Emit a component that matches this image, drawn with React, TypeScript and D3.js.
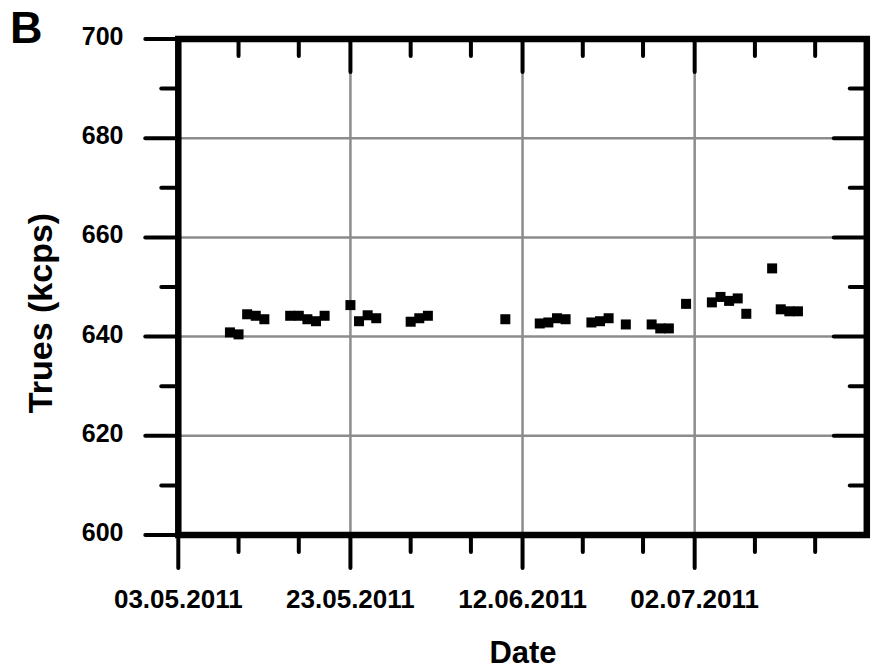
import React from "react";
import * as d3 from "d3";

const dates = [
  "09.05.2011", "10.05.2011", "11.05.2011", "12.05.2011", "13.05.2011",
  "16.05.2011", "17.05.2011", "18.05.2011", "19.05.2011", "20.05.2011",
  "23.05.2011", "24.05.2011", "25.05.2011", "26.05.2011",
  "30.05.2011", "31.05.2011", "01.06.2011",
  "10.06.2011",
  "14.06.2011", "15.06.2011", "16.06.2011", "17.06.2011",
  "20.06.2011", "21.06.2011", "22.06.2011", "24.06.2011",
  "27.06.2011", "28.06.2011", "29.06.2011", "01.07.2011",
  "04.07.2011", "05.07.2011", "06.07.2011", "07.07.2011", "08.07.2011",
  "11.07.2011", "12.07.2011", "13.07.2011", "14.07.2011",
];
const trues = [
  640.85, 640.45, 644.5, 644.2, 643.5,
  644.2, 644.2, 643.5, 643.1, 644.2,
  646.35, 643.1, 644.3, 643.7,
  643.0, 643.7, 644.2,
  643.5,
  642.65, 642.85, 643.7, 643.5,
  642.85, 643.1, 643.7, 642.45,
  642.45, 641.65, 641.65, 646.6,
  646.9, 648.0, 647.2, 647.7, 644.6,
  653.75, 645.5, 645.1, 645.1,
];
const majorDates = ["03.05.2011", "23.05.2011", "12.06.2011", "02.07.2011"];
const minorDates = [
  "10.05.2011", "17.05.2011", "30.05.2011", "06.06.2011",
  "19.06.2011", "26.06.2011", "09.07.2011", "16.07.2011",
];
const xDomain = ["03.05.2011", "22.07.2011"];
const yMajor = [600, 620, 640, 660, 680, 700];
const yMinor = [610, 630, 650, 670, 690];

const parse = (s: string) => {
  const [d, m, y] = s.split(".").map(Number);
  return new Date(Date.UTC(y, m - 1, d));
};

export default function App() {
  const W = 873, H = 670;
  const left = 178.3, right = 866.8, top = 39, bottom = 535;
  const x = d3.scaleUtc().domain(xDomain.map(parse)).range([left, right]);
  const y = d3.scaleLinear().domain([600, 700]).range([bottom, top]);
  const font = "'Liberation Sans', Arial, sans-serif";
  const majLen = 33, minLen = 17;
  const tickW = 4;
  return (
    <svg width={W} height={H} style={{ position: "absolute", left: 0, top: 0, background: "#fff" }}>
      <rect x={0} y={0} width={W} height={H} fill="#fff" />
      {/* grid */}
      {majorDates.slice(1).map((d) => (
        <line key={"gx" + d} x1={x(parse(d))} x2={x(parse(d))} y1={top} y2={bottom} stroke="#8c8c8c" strokeWidth={2.5} />
      ))}
      {yMajor.slice(1, -1).map((v) => (
        <line key={"gy" + v} x1={left} x2={right} y1={y(v)} y2={y(v)} stroke="#8c8c8c" strokeWidth={2.5} />
      ))}
      {/* ticks */}
      <g stroke="#000" strokeWidth={tickW} strokeLinecap="round">
        {majorDates.map((d) => {
          const px = x(parse(d));
          return (
            <g key={"mx" + d}>
              <line x1={px} x2={px} y1={bottom} y2={bottom + majLen} />
              <line x1={px} x2={px} y1={top} y2={top + majLen} />
            </g>
          );
        })}
        {minorDates.map((d) => {
          const px = x(parse(d));
          return (
            <g key={"nx" + d}>
              <line x1={px} x2={px} y1={bottom} y2={bottom + minLen} />
              <line x1={px} x2={px} y1={top} y2={top + minLen} />
            </g>
          );
        })}
        {yMajor.map((v) => (
          <g key={"my" + v}>
            <line x1={left - majLen} x2={left} y1={y(v)} y2={y(v)} />
            <line x1={right - majLen} x2={right} y1={y(v)} y2={y(v)} />
          </g>
        ))}
        {yMinor.map((v) => (
          <g key={"ny" + v}>
            <line x1={left - minLen} x2={left} y1={y(v)} y2={y(v)} />
            <line x1={right - minLen} x2={right} y1={y(v)} y2={y(v)} />
          </g>
        ))}
      </g>
      {/* frame */}
      <rect x={left} y={top} width={right - left} height={bottom - top} fill="none" stroke="#000" strokeWidth={6.5} />
      {/* points */}
      {dates.map((d, i) => (
        <rect key={"p" + i} x={x(parse(d)) - 5} y={y(trues[i]) - 5} width={10} height={10} fill="#000" />
      ))}
      {/* labels */}
      {yMajor.map((v) => (
        <text key={"ly" + v} x={123.5} y={y(v) - 3} textAnchor="end" dominantBaseline="central"
          fontFamily={font} fontWeight="bold" fontSize={25} fill="#000">{v}</text>
      ))}
      {majorDates.map((d) => (
        <text key={"lx" + d} x={x(parse(d))} y={608} textAnchor="middle"
          fontFamily={font} fontWeight="bold" fontSize={26} fill="#000">{d}</text>
      ))}
      <text x={523} y={663} textAnchor="middle" fontFamily={font} fontWeight="bold" fontSize={31} fill="#000">Date</text>
      <text transform="translate(52,313) rotate(-90)" textAnchor="middle" fontFamily={font} fontWeight="bold" fontSize={34} fill="#000">Trues (kcps)</text>
      <text x={10} y={43} fontFamily={font} fontWeight="bold" fontSize={45} fill="#000">B</text>
    </svg>
  );
}
